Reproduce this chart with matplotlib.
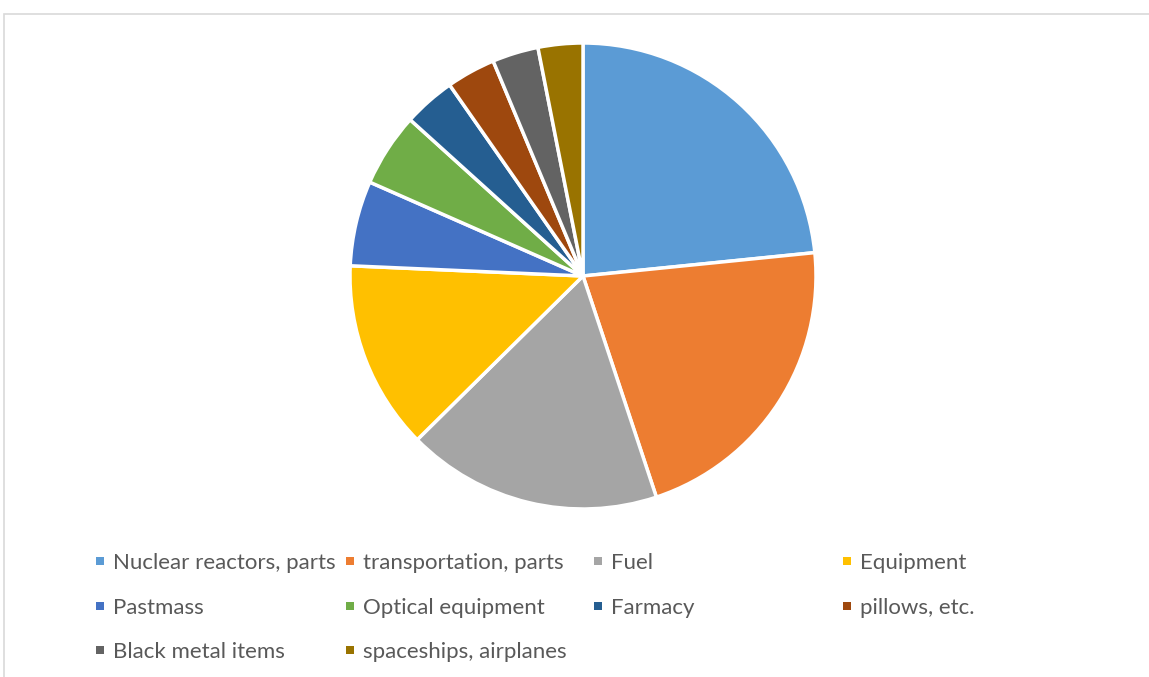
import matplotlib
matplotlib.use("Agg")
import matplotlib.pyplot as plt
from matplotlib.patches import Rectangle

categories = [
    "Nuclear reactors, parts", "transportation, parts", "Fuel", "Equipment",
    "Pastmass", "Optical equipment", "Farmacy", "pillows, etc.",
    "Black metal items", "spaceships, airplanes",
]
shares = [23.4, 21.5, 17.7, 13.1, 5.9, 5.1, 3.6, 3.4, 3.2, 3.1]
colors = ["#5B9BD5", "#ED7D31", "#A5A5A5", "#FFC000", "#4472C4",
          "#70AD47", "#255E91", "#9E480E", "#636363", "#997300"]

W, H = 1149, 677
fig = plt.figure(figsize=(W / 100, H / 100), dpi=100)
fig.patch.set_facecolor("white")

# chart frame
fig.patches.append(Rectangle((3.5 / W, -0.05), 1.2, 1.05 - 13.5 / H,
                             transform=fig.transFigure, fill=False,
                             edgecolor="#D9D9D9", linewidth=1.2))

# pie
cx, cy, r = 583, 276, 233
ax = fig.add_axes([(cx - r) / W, (H - cy - r) / H, 2 * r / W, 2 * r / H])
ax.pie(shares, colors=colors, startangle=90, counterclock=False, radius=1.0,
       wedgeprops=dict(edgecolor="white", linewidth=2.5))
ax.set_xlim(-1, 1)
ax.set_ylim(-1, 1)
ax.set_aspect("equal")
ax.axis("off")

# legend drawn as a 4-column grid
col_x = [96, 346, 594, 843]
row_y = [561, 606, 650]
sq = 8
for i, (lab, col) in enumerate(zip(categories, colors)):
    row, c = divmod(i, 4)
    x, y = col_x[c], row_y[row]
    fig.patches.append(Rectangle((x / W, (H - y - sq / 2) / H), sq / W, sq / H,
                                 transform=fig.transFigure, facecolor=col,
                                 edgecolor="none"))
    fig.text((x + 17) / W, (H - y) / H, lab, ha="left", va="center_baseline",
             fontsize=16, color="#595959", family=["Lato", "DejaVu Sans"])

fig.savefig("out.png", dpi=100, facecolor="white")
